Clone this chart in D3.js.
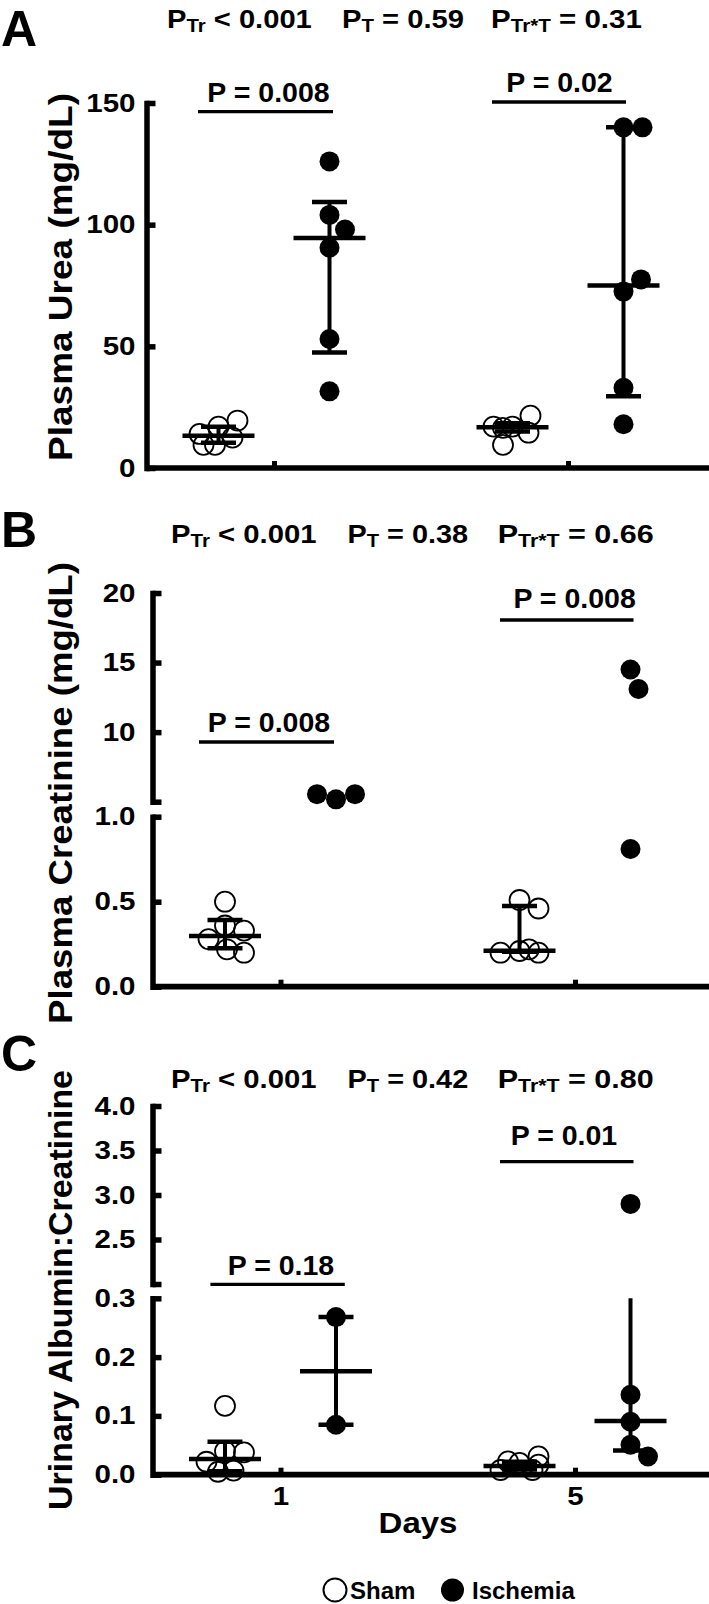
<!DOCTYPE html>
<html>
<head>
<meta charset="utf-8">
<script src="https://cdn.jsdelivr.net/npm/d3@7"></script>
<style>
  body { margin: 0; background: #fff; }
  svg { display: block; }
  text { font-family: "Liberation Sans", Arial, Helvetica, sans-serif; font-weight: bold; fill: #000; white-space: pre; }
</style>
</head>
<body>
<svg id="chart" width="709" height="1604"></svg>
<script>
// ---------------- DATA ----------------
const days = ["1", "5"];
const groups = ["Sham", "Ischemia"];
const subs = ["Tr", "T", "Tr*T"];

// Panel A: Plasma Urea (mg/dL)
const ureaShamD1 = [17, 19.5, 14, 12.5, 9.5, 9.5];
const ureaIschD1 = [126, 104, 98, 90.5, 53, 31.5];
const ureaShamD5 = [17, 21.5, 17, 14.5, 9.5, 16.5];
const ureaIschD5 = [140, 140, 72.5, 77.5, 33, 18];
// [median, lower, upper] per group: Sham d1, Isch d1, Sham d5, Isch d5
const ureaSummary = [[13.3, 10.4, 17], [94.5, 47.5, 109.3], [16.7, 15, 18.4], [75, 29.5, 140]];
const ureaHeader = ["< 0.001", "= 0.59", "= 0.31"];
const ureaSig = ["P = 0.008", "P = 0.02"];
const ureaTicks = [0, 50, 100, 150];

// Panel B: Plasma Creatinine (mg/dL)
const creatShamD1 = [0.50, 0.36, 0.33, 0.28, 0.22, 0.20];
const creatIschD1 = [5.17, 5.54, 5.54];
const creatShamD5 = [0.51, 0.46, 0.21, 0.20, 0.20, 0.22];
const creatIschD5 = [14.5, 13.1, 0.81];
const creatSummary = [[0.298, 0.226, 0.393], null, [0.212, 0.205, 0.475], null];
const creatHeader = ["< 0.001", "= 0.38", "= 0.66"];
const creatSig = ["P = 0.008", "P = 0.008"];
const creatTicksLow = [0, 0.5, 1.0];
const creatTicksHigh = [5, 10, 15, 20];

// Panel C: Urinary Albumin:Creatinine
const albShamD1 = [0.117, 0.040, 0.038, 0.022, 0.007, 0.005];
const albIschD1 = [0.268, 0.085];
const albShamD5 = [0.020, 0.031, 0.008, 0.008, 0.0225, 0.017];
const albIschD5 = [2.9, 0.136, 0.090, 0.051, 0.031];
const albSummary = [[0.0266, 0.006, 0.056], [0.176, 0.085, 0.268], [0.015, 0.009, 0.022], [0.0915, 0.041, 1.518]];
const albHeader = ["< 0.001", "= 0.42", "= 0.80"];
const albSig = ["P = 0.18", "P = 0.01"];
const albTicksLow = [0, 0.1, 0.2, 0.3];
const albTicksHigh = [2.0, 2.5, 3.0, 3.5, 4.0];

// ---------------- LAYOUT ----------------
const W = 709;
const cells = [["1", "Sham"], ["1", "Ischemia"], ["5", "Sham"], ["5", "Ischemia"]];

const panels = [
  {
    letter: "A", letterY: 46, yLabel: "Plasma Urea (mg/dL)", yLabelC: 277, yLabelLen: 368,
    axisX: 146.5, baseY: 468, dayX: [274, 568],
    segs: [{ domain: [0, 150], range: [468, 103], ticks: ureaTicks, fmt: d3.format("d") }],
    headerY: 28.3, headerX: [[167, 312], [342, 464], [491, 642]], header: ureaHeader,
    sig: ureaSig, sigLayout: [{ x0: 198, x1: 333, y: 111.7, tx: 268.5, ty: 101.7 }, { x0: 492, x1: 626, y: 102, tx: 559.5, ty: 91.7 }],
    points: [ureaShamD1, ureaIschD1, ureaShamD5, ureaIschD5], summary: ureaSummary
  },
  {
    letter: "B", letterY: 546.7, yLabel: "Plasma Creatinine (mg/dL)", yLabelC: 793, yLabelLen: 462,
    axisX: 152.5, baseY: 986.7, dayX: [280.5, 575],
    segs: [
      { domain: [0, 1], range: [986.7, 816.7], ticks: creatTicksLow, fmt: d3.format(".1f") },
      { domain: [5, 20], range: [801.7, 593], ticks: creatTicksHigh, fmt: d => (d === 5 ? "" : d3.format("d")(d)) }
    ],
    headerY: 543.3, headerX: [[171, 316.7], [347.5, 468.3], [497.7, 653.8]], header: creatHeader,
    sig: creatSig, sigLayout: [{ x0: 199, x1: 334, y: 742, tx: 269, ty: 731.7 }, { x0: 500, x1: 633.5, y: 620, tx: 574.6, ty: 608.3 }],
    points: [creatShamD1, creatIschD1, creatShamD5, creatIschD5], summary: creatSummary
  },
  {
    letter: "C", letterY: 1070.5, yLabel: "Urinary Albumin:Creatinine", yLabelC: 1290, yLabelLen: 440,
    axisX: 152.5, baseY: 1474.7, dayX: [280.5, 575], showDays: true,
    segs: [
      { domain: [0, 0.3], range: [1474.7, 1298.3], ticks: albTicksLow, fmt: d3.format(".1f") },
      { domain: [2, 4], range: [1284, 1106], ticks: albTicksHigh, fmt: d => (d === 2 ? "" : d3.format(".1f")(d)) }
    ],
    headerY: 1088.3, headerX: [[171, 316.7], [347.5, 468.3], [497.7, 653.8]], header: albHeader,
    sig: albSig, sigLayout: [{ x0: 210.4, x1: 344.8, y: 1284.3, tx: 281, ty: 1275 }, { x0: 500, x1: 633.5, y: 1161.7, tx: 564, ty: 1145 }],
    points: [albShamD1, albIschD1, albShamD5, albIschD5], summary: albSummary
  }
];

const svg = d3.select("#chart");
const LABEL_RIGHT = 135.5;
const SX = 1.18;           // horizontal stretch of the condensed-looking labels
const R = 10;              // symbol radius

function makeY(segs) {
  const scales = segs.map(s => d3.scaleLinear().domain(s.domain).range(s.range));
  const f = v => {
    for (const sc of scales) {
      const [a, b] = sc.domain();
      if (v >= a - 1e-9 && v <= b + 1e-9) return sc(v);
    }
    return null;
  };
  f.scales = scales;
  return f;
}

// deterministic beeswarm offsets
function swarm(vals, yFn, D = 21, maxOff = 19) {
  const placed = [];
  const cands = [0];
  for (let s = 0.5; s <= maxOff; s += 0.5) { cands.push(s, -s); }
  return vals.map(v => {
    const y = yFn(v);
    if (y == null) return null;
    let best = 0, bestScore = -1;
    for (const c of cands) {
      let sc = D;
      for (const p of placed) sc = Math.min(sc, Math.hypot(c - p.x, y - p.y));
      if (sc > bestScore + 1e-6) { bestScore = sc; best = c; }
    }
    placed.push({ x: best, y });
    return { dx: best, y };
  });
}

panels.forEach(P => {
  const g = svg.append("g");
  const y = makeY(P.segs);
  const xDay = d3.scalePoint().domain(days).range(P.dayX);
  const xGrp = d3.scalePoint().domain(groups).range([-55.5, 55.5]);

  // panel letter
  g.append("text").attr("x", 1).attr("y", P.letterY)
    .attr("font-size", 50).text(P.letter);

  // header p-values
  P.header.forEach((h, i) => {
    const [x0, x1] = P.headerX[i];
    const t = g.append("text").attr("font-size", 25);
    t.append("tspan").text("P");
    t.append("tspan").attr("font-size", 17.5).attr("dy", 3.8).text(subs[i]);
    t.append("tspan").attr("dy", -3.8).text(" " + h);
    t.attr("x", 0).attr("y", 0);
    const w = t.node().getBBox().width;
    t.attr("transform", `translate(${x0},${P.headerY}) scale(${(x1 - x0) / w},1)`);
  });

  // y label (stretched along its length)
  const yl = g.append("text").attr("font-size", 33).attr("text-anchor", "middle").text(P.yLabel);
  const ylw = yl.node().getComputedTextLength();
  yl.attr("transform", `translate(72,${P.yLabelC}) rotate(-90) scale(${P.yLabelLen / ylw},1)`);

  // y axis segments
  P.segs.forEach((s, i) => {
    const ag = g.append("g").attr("transform", `translate(${P.axisX},0)`)
      .call(d3.axisLeft(y.scales[i]).tickValues(s.ticks).tickFormat(s.fmt)
        .tickSizeInner(-9).tickSizeOuter(0).tickPadding((P.axisX - LABEL_RIGHT) / SX));
    ag.attr("font-size", 25).attr("font-family", null);
    ag.select(".domain").attr("stroke-width", 5.5).attr("stroke-linecap", "square");
    ag.selectAll(".tick line").attr("stroke-width", 5.5);
    ag.selectAll(".tick text").attr("transform", `scale(${SX},1)`);
  });

  // x axis
  const xg = g.append("g").attr("transform", `translate(0,${P.baseY})`)
    .call(d3.axisBottom(xDay).tickSizeInner(-7).tickSizeOuter(0).tickPadding(12.5)
      .tickFormat(d => (P.showDays ? d : "")));
  xg.attr("font-size", 25).attr("font-family", null);
  xg.select(".domain").attr("d", `M${P.axisX},0H${W}`).attr("stroke-width", 5.7);
  xg.selectAll(".tick line").attr("stroke-width", 5);
  xg.selectAll(".tick text").attr("transform", `scale(${SX},1)`);

  if (P.showDays) {
    g.append("text").attr("font-size", 30).attr("text-anchor", "middle")
      .attr("transform", `translate(418,1533) scale(1.1,1)`).text("Days");
  }

  // points
  cells.forEach(([day, grp], ci) => {
    const cx = xDay(day) + xGrp(grp);
    const pos = swarm(P.points[ci], y).filter(d => d);
    g.append("g").selectAll("circle").data(pos).join("circle")
      .attr("cx", d => cx + d.dx).attr("cy", d => d.y).attr("r", R)
      .attr("fill", grp === "Sham" ? "none" : "#000")
      .attr("stroke", "#000").attr("stroke-width", grp === "Sham" ? 1.8 : 0);
  });

  // medians with interquartile bars
  cells.forEach(([day, grp], ci) => {
    const s = P.summary[ci];
    if (!s) return;
    const cx = xDay(day) + xGrp(grp);
    const [med, lo, hi] = s;
    const sg = g.append("g").attr("stroke", "#000");
    y.scales.forEach(sc => {
      const [a, b] = sc.domain();
      const u = Math.max(lo, a), v = Math.min(hi, b);
      if (u < v) sg.append("line").attr("x1", cx).attr("x2", cx)
        .attr("y1", sc(u)).attr("y2", sc(v)).attr("stroke-width", 4);
    });
    [lo, hi].forEach(val => {
      const yy = y(val);
      if (yy == null) return;
      sg.append("line").attr("x1", cx - 17.5).attr("x2", cx + 17.5)
        .attr("y1", yy).attr("y2", yy).attr("stroke-width", 4.5);
    });
    const ym = y(med);
    sg.append("line").attr("x1", cx - 36).attr("x2", cx + 36)
      .attr("y1", ym).attr("y2", ym).attr("stroke-width", 4.5);
  });

  // significance bars
  P.sig.forEach((label, i) => {
    const L = P.sigLayout[i];
    g.append("line").attr("x1", L.x0).attr("x2", L.x1).attr("y1", L.y).attr("y2", L.y)
      .attr("stroke", "#000").attr("stroke-width", 3.3);
    g.append("text").attr("x", L.tx).attr("y", L.ty).attr("text-anchor", "middle")
      .attr("font-size", 28.5).text(label);
  });
});

// legend
const lg = svg.append("g");
lg.append("circle").attr("cx", 335).attr("cy", 1590).attr("r", 11.5)
  .attr("fill", "none").attr("stroke", "#000").attr("stroke-width", 2);
lg.append("text").attr("x", 350).attr("y", 1599).attr("font-size", 24).text(groups[0]);
lg.append("circle").attr("cx", 452.5).attr("cy", 1590).attr("r", 11.5).attr("fill", "#000");
lg.append("text").attr("x", 472).attr("y", 1599).attr("font-size", 24).text(groups[1]);
</script>
</body>
</html>
